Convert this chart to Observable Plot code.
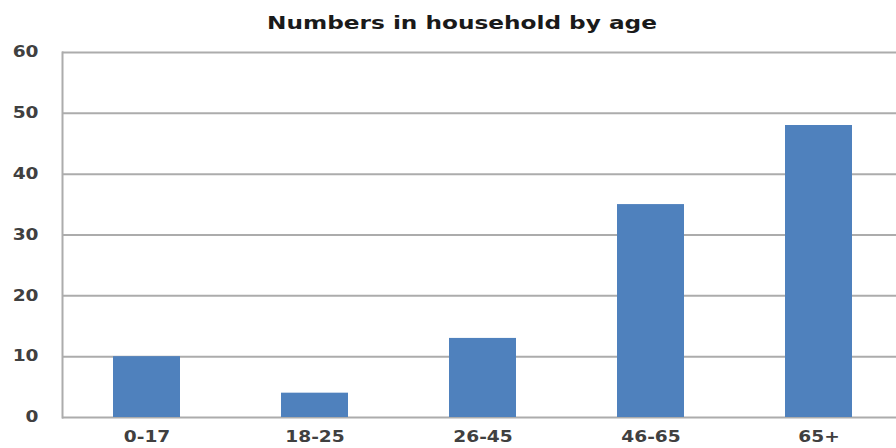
<!DOCTYPE html>
<html>
<head>
<meta charset="utf-8">
<script src="https://cdn.jsdelivr.net/npm/d3@7"></script>
<script src="https://cdn.jsdelivr.net/npm/@observablehq/plot@0.6"></script>
<style>
  html, body { margin: 0; padding: 0; background: #fff; }
  #chart { width: 896px; height: 448px; overflow: hidden; }
  svg { display: block; }
</style>
</head>
<body>
<div id="chart"></div>
<script>
// Household members by age group
const ageGroups = ["0-17", "18-25", "26-45", "46-65", "65+"];
const counts = [10, 4, 13, 35, 48];
const yTicks = [0, 10, 20, 30, 40, 50, 60];
const title = "Numbers in household by age";

const data = ageGroups.map((g, i) => ({ group: g, value: counts[i] }));

const gridColor = "#acacac";
const textColor = "#404040";
const font = "DejaVu Sans, Verdana, sans-serif";

const chart = Plot.plot({
  width: 896,
  height: 448,
  marginTop: 52,
  marginBottom: 31,
  marginLeft: 62,
  marginRight: -7,
  style: { fontFamily: font, fontSize: "12px", color: textColor, background: "#fff", overflow: "hidden" },
  x: { domain: ageGroups, paddingInner: 0.6, paddingOuter: 0.3, label: null },
  y: { domain: [0, 60], ticks: yTicks, label: null },
  marks: [
    Plot.gridY(yTicks, { stroke: gridColor, strokeOpacity: 1, strokeWidth: 2 }),
    Plot.frame({ anchor: "left", stroke: gridColor, strokeWidth: 2 }),
    Plot.barY(data, { x: "group", y: "value", fill: "#4f81bd" }),
    Plot.axisY(yTicks, { tickSize: 0, tickPadding: 24, fontSize: 15, fontWeight: "bold", fill: textColor, label: null }),
    Plot.axisX({ tickSize: 0, tickPadding: 14, fontSize: 15, fontWeight: "bold", fill: textColor, label: null }),
    Plot.text([title], { frameAnchor: "top", dy: -36, dx: -21, fontSize: 18, fontWeight: "bold", fill: "#1a1a1a" })
  ]
});

document.getElementById("chart").appendChild(chart);

// Stretch the lettering horizontally for the broad label face,
// keeping each label's anchor point fixed
d3.select(chart).selectAll("text").each(function () {
  const isTitle = this.textContent === title;
  const s = isTitle ? 1.29 : 1.24;
  const b = this.getBBox();
  const anchor = getComputedStyle(this).textAnchor ||
    this.getAttribute("text-anchor") ||
    (this.parentNode && this.parentNode.getAttribute("text-anchor"));
  const cx = anchor === "end" ? b.x + b.width : anchor === "start" ? b.x : b.x + b.width / 2;
  const prev = this.getAttribute("transform") || "";
  this.setAttribute("transform", `${prev} translate(${cx},0) scale(${s},1) translate(${-cx},0)`.trim());
});
</script>
</body>
</html>
